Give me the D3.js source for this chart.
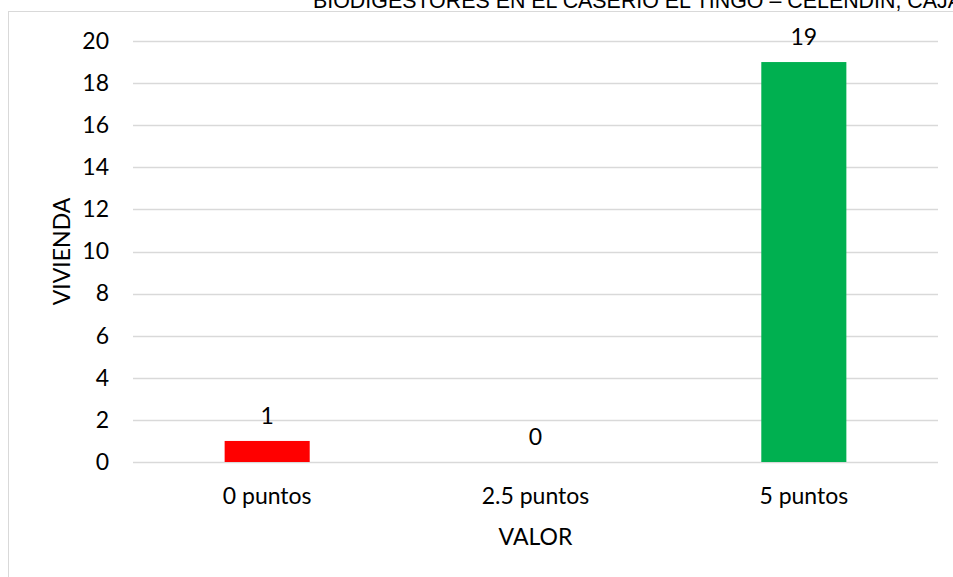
<!DOCTYPE html>
<html>
<head>
<meta charset="utf-8">
<script src="https://cdn.jsdelivr.net/npm/d3@7"></script>
<style>
  body { margin: 0; background: #fff; }
  svg { display: block; }
</style>
</head>
<body>
<div id="figure"></div>
<script>
// chart data
const categories = ["0 puntos", "2.5 puntos", "5 puntos"];
const viviendas = [1, 0, 19];
const barColors = ["#ff0000", "#ffc000", "#00b050"];
const yTicks = [0, 2, 4, 6, 8, 10, 12, 14, 16, 18, 20];
const titleText = "BIODIGESTORES EN EL CASERIO EL TINGO \u2013 CELENDIN, CAJAMARCA";

const W = 953, H = 577;
const margin = {top: 41, right: 15, bottom: 115, left: 133};
const width = W - margin.left - margin.right,
      height = H - margin.top - margin.bottom;

const root = d3.select("#figure").append("svg")
    .attr("width", W).attr("height", H);

// outer chart frame (only top and left edges visible)
root.append("line").attr("x1", 8).attr("x2", W).attr("y1", 11.5).attr("y2", 11.5)
    .attr("stroke", "#d9d9d9").attr("stroke-width", 1);
root.append("line").attr("x1", 8.5).attr("x2", 8.5).attr("y1", 11).attr("y2", H)
    .attr("stroke", "#d9d9d9").attr("stroke-width", 1);

// title, clipped by the top edge as in the source
root.append("text")
    .attr("x", 313).attr("y", 8)
    .attr("font-family", "Liberation Sans, Arial, sans-serif")
    .attr("font-size", 21.4)
    .attr("fill", "#000")
    .text(titleText);

const svg = root.append("g")
    .attr("transform", `translate(${margin.left},${margin.top})`);

const x = d3.scaleBand().domain(categories).range([0, width]).paddingInner(0.683).paddingOuter(0.3415);
const y = d3.scaleLinear().domain([0, 20]).range([height, 0]);

// gridlines
svg.append("g").selectAll("line").data(yTicks).join("line")
    .attr("x1", 0).attr("x2", width)
    .attr("y1", d => Math.round(y(d)) + 0.5).attr("y2", d => Math.round(y(d)) + 0.5)
    .attr("stroke", "#d9d9d9").attr("stroke-width", 1.3);

const font = "Lato, 'Open Sans', sans-serif";
const fs = 23;

// y axis labels
const yAxis = d3.axisLeft(y).tickValues(yTicks).tickSize(0).tickPadding(24);
svg.append("g").call(yAxis)
    .call(g => g.select(".domain").remove())
    .selectAll("text")
    .attr("font-family", font).attr("font-size", fs).attr("fill", "#000");

// x axis labels
const xAxis = d3.axisBottom(x).tickSize(0).tickPadding(26);
svg.append("g").attr("transform", `translate(0,${height})`).call(xAxis)
    .call(g => g.select(".domain").remove())
    .selectAll("text")
    .attr("font-family", font).attr("font-size", fs).attr("fill", "#000");

// bars
svg.selectAll(".bar").data(viviendas).join("rect")
    .attr("class", "bar")
    .attr("x", (d, i) => x(categories[i]))
    .attr("width", x.bandwidth())
    .attr("y", d => y(d))
    .attr("height", d => height - y(d))
    .attr("fill", (d, i) => barColors[i]);

// data labels
svg.selectAll(".lbl").data(viviendas).join("text")
    .attr("class", "lbl")
    .attr("x", (d, i) => x(categories[i]) + x.bandwidth() / 2)
    .attr("y", d => y(d) - 17)
    .attr("text-anchor", "middle")
    .attr("font-family", font).attr("font-size", fs).attr("fill", "#000")
    .text(d => d);

// axis titles
root.append("text")
    .attr("transform", `translate(70,${margin.top + height / 2}) rotate(-90)`)
    .attr("text-anchor", "middle")
    .attr("font-family", font).attr("font-size", fs).attr("fill", "#000")
    .text("VIVIENDA");

root.append("text")
    .attr("x", margin.left + width / 2).attr("y", 545)
    .attr("text-anchor", "middle")
    .attr("font-family", font).attr("font-size", fs).attr("fill", "#000")
    .text("VALOR");
</script>
</body>
</html>
